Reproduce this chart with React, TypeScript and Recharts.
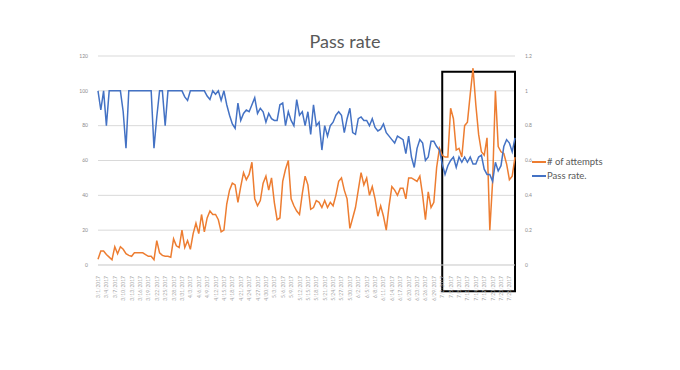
import { LineChart, Line, XAxis, YAxis, CartesianGrid, ReferenceArea } from 'recharts';

// one point per day
const dates = [
  '3/1/2017', '3/2/2017', '3/3/2017', '3/4/2017', '3/5/2017', '3/6/2017', '3/7/2017', '3/8/2017', '3/9/2017', '3/10/2017',
  '3/11/2017', '3/12/2017', '3/13/2017', '3/14/2017', '3/15/2017', '3/16/2017', '3/17/2017', '3/18/2017', '3/19/2017', '3/20/2017',
  '3/21/2017', '3/22/2017', '3/23/2017', '3/24/2017', '3/25/2017', '3/26/2017', '3/27/2017', '3/28/2017', '3/29/2017', '3/30/2017',
  '3/31/2017', '4/1/2017', '4/2/2017', '4/3/2017', '4/4/2017', '4/5/2017', '4/6/2017', '4/7/2017', '4/8/2017', '4/9/2017',
  '4/10/2017', '4/11/2017', '4/12/2017', '4/13/2017', '4/14/2017', '4/15/2017', '4/16/2017', '4/17/2017', '4/18/2017', '4/19/2017',
  '4/20/2017', '4/21/2017', '4/22/2017', '4/23/2017', '4/24/2017', '4/25/2017', '4/26/2017', '4/27/2017', '4/28/2017', '4/29/2017',
  '4/30/2017', '5/1/2017', '5/2/2017', '5/3/2017', '5/4/2017', '5/5/2017', '5/6/2017', '5/7/2017', '5/8/2017', '5/9/2017',
  '5/10/2017', '5/11/2017', '5/12/2017', '5/13/2017', '5/14/2017', '5/15/2017', '5/16/2017', '5/17/2017', '5/18/2017', '5/19/2017',
  '5/20/2017', '5/21/2017', '5/22/2017', '5/23/2017', '5/24/2017', '5/25/2017', '5/26/2017', '5/27/2017', '5/28/2017', '5/29/2017',
  '5/30/2017', '5/31/2017', '6/1/2017', '6/2/2017', '6/3/2017', '6/4/2017', '6/5/2017', '6/6/2017', '6/7/2017', '6/8/2017',
  '6/9/2017', '6/10/2017', '6/11/2017', '6/12/2017', '6/13/2017', '6/14/2017', '6/15/2017', '6/16/2017', '6/17/2017', '6/18/2017',
  '6/19/2017', '6/20/2017', '6/21/2017', '6/22/2017', '6/23/2017', '6/24/2017', '6/25/2017', '6/26/2017', '6/27/2017', '6/28/2017',
  '6/29/2017', '6/30/2017', '7/1/2017', '7/2/2017', '7/3/2017', '7/4/2017', '7/5/2017', '7/6/2017', '7/7/2017', '7/8/2017',
  '7/9/2017', '7/10/2017', '7/11/2017', '7/12/2017', '7/13/2017', '7/14/2017', '7/15/2017', '7/16/2017', '7/17/2017', '7/18/2017',
  '7/19/2017', '7/20/2017', '7/21/2017', '7/22/2017', '7/23/2017', '7/24/2017', '7/25/2017', '7/26/2017', '7/27/2017', '7/28/2017',
];

// # of attempts (left axis)
const attempts = [
  3.3, 8, 8, 6, 4.5, 3, 10.5, 6.5, 10.5, 9,
  6.5, 5.5, 5, 7, 7, 7, 7, 6, 5, 5,
  3, 14, 7, 5.5, 5, 5, 4.5, 15, 11, 10,
  20, 10, 14, 9, 18, 24, 18, 29, 19, 27,
  31, 29, 29, 26, 19, 20, 35, 43, 47, 46,
  36, 45, 53, 49, 52, 59, 38, 34, 37, 47,
  51, 43, 50, 36, 26, 27, 48, 55, 60, 38,
  34, 31, 29, 41, 51, 46, 32, 33, 37, 36,
  33, 37, 33, 36, 34, 40, 48, 50, 43, 38,
  21, 27, 33, 43, 53, 46, 50, 40, 45, 38,
  28, 34, 28, 20, 34, 45, 43, 40, 44, 44,
  38, 50, 50, 49, 48, 51, 40, 26, 42, 33,
  36, 56, 67, 63, 62, 62, 90, 84, 66, 67,
  62, 80, 82, 98, 113, 92, 75, 65, 63, 73,
  20, 48, 100, 68, 65, 64, 58, 49, 51, 62,
];

// pass rate (right axis)
const passRate = [
  1, 0.89, 1, 0.8, 1, 1, 1, 1, 1, 0.88,
  0.67, 1, 1, 1, 1, 1, 1, 1, 1, 1,
  0.67, 0.85, 1, 1, 0.8, 1, 1, 1, 1, 1,
  1, 0.965, 0.945, 1, 1, 1, 1, 1, 1, 0.97,
  0.95, 1, 0.98, 1, 0.945, 1, 0.92, 0.86, 0.81, 0.785,
  0.93, 0.83, 0.87, 0.89, 0.88, 0.92, 0.96, 0.87, 0.9, 0.88,
  0.82, 0.87, 0.84, 0.83, 0.83, 0.92, 0.93, 0.8, 0.88, 0.83,
  0.8, 0.95, 0.86, 0.88, 0.8, 0.88, 0.75, 0.92, 0.8, 0.82,
  0.66, 0.8, 0.74, 0.8, 0.82, 0.86, 0.88, 0.86, 0.76, 0.84,
  0.9, 0.76, 0.75, 0.84, 0.85, 0.83, 0.83, 0.8, 0.84, 0.79,
  0.77, 0.78, 0.81, 0.76, 0.74, 0.72, 0.7, 0.74, 0.73, 0.72,
  0.64, 0.74, 0.62, 0.56, 0.67, 0.72, 0.7, 0.6, 0.62, 0.71,
  0.71, 0.68, 0.66, 0.58, 0.52, 0.57, 0.6, 0.62, 0.56, 0.62,
  0.59, 0.62, 0.59, 0.62, 0.58, 0.58, 0.62, 0.63, 0.55, 0.52,
  0.52, 0.48, 0.59, 0.54, 0.57, 0.68, 0.72, 0.7, 0.65, 0.73,
];

const leftTicks = [0, 20, 40, 60, 80, 100, 120];
const rightTicks = [0, 0.2, 0.4, 0.6, 0.8, 1, 1.2];

const data = dates.map((d, i) => ({ date: d, attempts: attempts[i], passRate: passRate[i] }));

const DateTick = ({ x, y, payload }: any) => (
  <text x={x} y={y + 3} transform={`rotate(-90 ${x} ${y + 3})`} textAnchor="end" dominantBaseline="central"
    fontSize={5} fill="#a6a6a6">
    {payload.value}
  </text>
);

// legend sits outside the chart so it doesn't eat plot space
const LegendBox = () => (
  <div style={{ position: 'absolute', left: 524, top: 147, fontSize: 9.5, color: '#595959', lineHeight: '14px' }}>
    <div style={{ display: 'flex', alignItems: 'center' }}>
      <span style={{ width: 14, height: 2, background: '#ED7D31', marginRight: 1 }} />
      # of attempts
    </div>
    <div style={{ display: 'flex', alignItems: 'center' }}>
      <span style={{ width: 14, height: 2, background: '#4472C4', marginRight: 1 }} />
      Pass rate.
    </div>
  </div>
);

export default function App() {
  return (
    <div style={{ position: 'relative', width: 664, height: 354, fontFamily: 'Lato, sans-serif', background: '#fff' }}>
      <div style={{ position: 'absolute', top: 23, left: 0, width: 674, textAlign: 'center', fontSize: 18,
        color: '#595959', lineHeight: '20px' }}>
        Pass rate
      </div>
      <LineChart width={664} height={354} data={data} margin={{ top: 48, right: 137, left: 70, bottom: 62 }}>
        <CartesianGrid vertical={false} stroke="#d9d9d9" yAxisId="left" />
        <XAxis dataKey="date" interval={2} height={35} tickLine={false} stroke="#d9d9d9" tick={<DateTick />} />
        <YAxis yAxisId="left" domain={[0, 120]} ticks={leftTicks} width={20} axisLine={false} tickLine={false}
          tickMargin={4} tick={{ fontSize: 5, fill: '#8c8c8c' }} />
        <YAxis yAxisId="right" orientation="right" domain={[0, 1.2]} ticks={rightTicks} width={20} axisLine={false}
          tickLine={false} tickMargin={4} tick={{ fontSize: 5, fill: '#8c8c8c', textAnchor: 'start' }} />
        <Line yAxisId="left" dataKey="attempts" stroke="#ED7D31" strokeWidth={1.5} dot={false}
          isAnimationActive={false} type="linear" />
        <Line yAxisId="right" dataKey="passRate" stroke="#4472C4" strokeWidth={1.5} dot={false}
          isAnimationActive={false} type="linear" />
        <ReferenceArea yAxisId="left" x1="7/2/2017" x2="7/28/2017" y1={-15} y2={111} ifOverflow="visible"
          fill="none" stroke="#000" strokeWidth={2} />
      </LineChart>
      <LegendBox />
    </div>
  );
}
